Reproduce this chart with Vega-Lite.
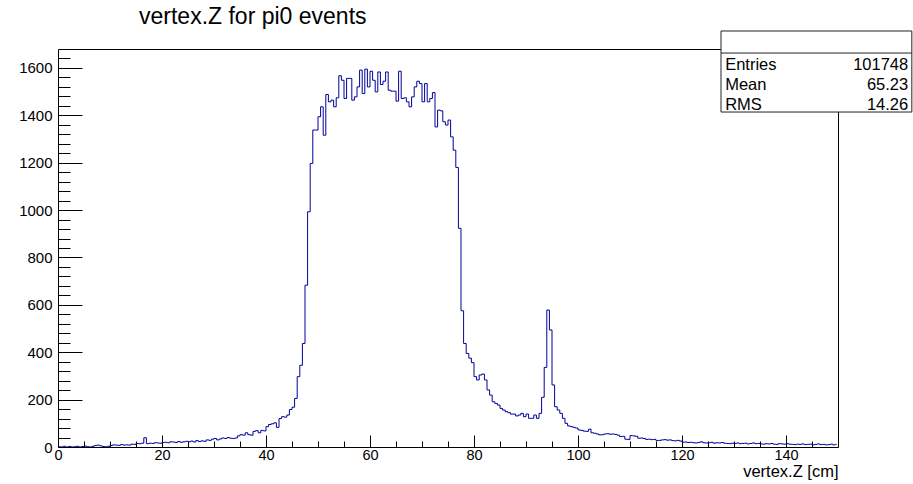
{
  "$schema": "https://vega.github.io/schema/vega-lite/v6.json",
  "width": 780,
  "height": 398,
  "autosize": {"type": "none"},
  "padding": {"left": 58, "top": 49, "right": 75, "bottom": 37},
  "background": "white",
  "config": {"view": {"stroke": "black", "strokeWidth": 1}, "font": "Liberation Sans"},
  "title": {"text": "vertex.Z for pi0 events", "anchor": "start", "frame": "group", "dx": 81, "fontSize": 23, "fontWeight": "normal", "font": "Liberation Sans", "color": "black", "offset": -17, "baseline": "alphabetic"},
  "datasets": {
    "hist": [
      {"z":0.25,"n":2},{"z":0.75,"n":0},{"z":1.25,"n":3},{"z":1.75,"n":0},{"z":2.25,"n":2},{"z":2.75,"n":0},{"z":3.25,"n":1},{"z":3.75,"n":3},{"z":4.25,"n":0},{"z":4.75,"n":2},
      {"z":5.25,"n":4},{"z":5.75,"n":1},{"z":6.25,"n":0},{"z":6.75,"n":3},{"z":7.25,"n":6},{"z":7.75,"n":8},{"z":8.25,"n":5},{"z":8.75,"n":2},{"z":9.25,"n":1},{"z":9.75,"n":3},
      {"z":10.25,"n":6},{"z":10.75,"n":9},{"z":11.25,"n":8},{"z":11.75,"n":7},{"z":12.25,"n":10},{"z":12.75,"n":8},{"z":13.25,"n":9},{"z":13.75,"n":8},{"z":14.25,"n":12},{"z":14.75,"n":11},
      {"z":15.25,"n":15},{"z":15.75,"n":14},{"z":16.25,"n":16},{"z":16.75,"n":39},{"z":17.25,"n":14},{"z":17.75,"n":16},{"z":18.25,"n":15},{"z":18.75,"n":18},{"z":19.25,"n":17},{"z":19.75,"n":16},
      {"z":20.25,"n":19},{"z":20.75,"n":20},{"z":21.25,"n":18},{"z":21.75,"n":22},{"z":22.25,"n":21},{"z":22.75,"n":19},{"z":23.25,"n":23},{"z":23.75,"n":20},{"z":24.25,"n":22},{"z":24.75,"n":24},
      {"z":25.25,"n":22},{"z":25.75,"n":25},{"z":26.25,"n":21},{"z":26.75,"n":27},{"z":27.25,"n":23},{"z":27.75,"n":26},{"z":28.25,"n":24},{"z":28.75,"n":30},{"z":29.25,"n":28},{"z":29.75,"n":33},
      {"z":30.25,"n":36},{"z":30.75,"n":30},{"z":31.25,"n":34},{"z":31.75,"n":38},{"z":32.25,"n":36},{"z":32.75,"n":40},{"z":33.25,"n":37},{"z":33.75,"n":36},{"z":34.25,"n":38},{"z":34.75,"n":47},
      {"z":35.25,"n":52},{"z":35.75,"n":50},{"z":36.25,"n":60},{"z":36.75,"n":52},{"z":37.25,"n":50},{"z":37.75,"n":66},{"z":38.25,"n":69},{"z":38.75,"n":60},{"z":39.25,"n":70},{"z":39.75,"n":68},
      {"z":40.25,"n":86},{"z":40.75,"n":95},{"z":41.25,"n":98},{"z":41.75,"n":102},{"z":42.25,"n":83},{"z":42.75,"n":120},{"z":43.25,"n":128},{"z":43.75,"n":126},{"z":44.25,"n":135},{"z":44.75,"n":158},
      {"z":45.25,"n":168},{"z":45.75,"n":205},{"z":46.25,"n":297},{"z":46.75,"n":345},{"z":47.25,"n":437},{"z":47.75,"n":683},{"z":48.25,"n":993},{"z":48.75,"n":1197},
      {"z":49.25,"n":1338},{"z":49.75,"n":1338},{"z":50.25,"n":1394},{"z":50.75,"n":1436},{"z":51.25,"n":1316},{"z":51.75,"n":1488},{"z":52.25,"n":1457},{"z":52.75,"n":1464},{"z":53.25,"n":1436},{"z":53.75,"n":1474},
      {"z":54.25,"n":1567},{"z":54.75,"n":1548},{"z":55.25,"n":1471},{"z":55.75,"n":1556},{"z":56.25,"n":1556},{"z":56.75,"n":1464},{"z":57.25,"n":1478},{"z":57.75,"n":1520},{"z":58.25,"n":1591},{"z":58.75,"n":1492},
      {"z":59.25,"n":1595},{"z":59.75,"n":1520},{"z":60.25,"n":1586},{"z":60.75,"n":1548},{"z":61.25,"n":1499},{"z":61.75,"n":1583},{"z":62.25,"n":1530},{"z":62.75,"n":1544},{"z":63.25,"n":1583},{"z":63.75,"n":1506},
      {"z":64.25,"n":1502},{"z":64.75,"n":1502},{"z":65.25,"n":1460},{"z":65.75,"n":1586},{"z":66.25,"n":1471},{"z":66.75,"n":1474},{"z":67.25,"n":1457},{"z":67.75,"n":1436},{"z":68.25,"n":1478},{"z":68.75,"n":1520},
      {"z":69.25,"n":1544},{"z":69.75,"n":1534},{"z":70.25,"n":1457},{"z":70.75,"n":1534},{"z":71.25,"n":1457},{"z":71.75,"n":1471},{"z":72.25,"n":1496},{"z":72.75,"n":1351},
      {"z":73.25,"n":1422},{"z":73.75,"n":1419},{"z":74.25,"n":1373},{"z":74.75,"n":1359},{"z":75.25,"n":1380},{"z":75.75,"n":1309},{"z":76.25,"n":1253},{"z":76.75,"n":1180},{"z":77.25,"n":923},{"z":77.75,"n":575},
      {"z":78.25,"n":437},{"z":78.75,"n":395},{"z":79.25,"n":375},{"z":79.75,"n":356},{"z":80.25,"n":297},
      {"z":80.75,"n":283},{"z":81.25,"n":304},{"z":81.75,"n":308},{"z":82.25,"n":283},{"z":82.75,"n":241},{"z":83.25,"n":219},{"z":83.75,"n":191},{"z":84.25,"n":184},{"z":84.75,"n":177},{"z":85.25,"n":163},
      {"z":85.75,"n":156},{"z":86.25,"n":149},{"z":86.75,"n":145},{"z":87.25,"n":139},{"z":87.75,"n":139},{"z":88.25,"n":131},{"z":88.75,"n":135},{"z":89.25,"n":142},{"z":89.75,"n":128},{"z":90.25,"n":139},
      {"z":90.75,"n":121},{"z":91.25,"n":121},{"z":91.75,"n":135},{"z":92.25,"n":121},{"z":92.75,"n":142},
      {"z":93.25,"n":210},{"z":93.75,"n":336},{"z":94.25,"n":578},{"z":94.75,"n":494},{"z":95.25,"n":262},{"z":95.75,"n":170},{"z":96.25,"n":156},{"z":96.75,"n":142},{"z":97.25,"n":121},{"z":97.75,"n":100},
      {"z":98.25,"n":89},{"z":98.75,"n":86},
      {"z":99.25,"n":83},{"z":99.75,"n":80},{"z":100.25,"n":72},{"z":100.75,"n":70},{"z":101.25,"n":67},{"z":101.75,"n":66},{"z":102.25,"n":75},{"z":102.75,"n":60},{"z":103.25,"n":58},{"z":103.75,"n":55},
      {"z":104.25,"n":51},{"z":104.75,"n":52},{"z":105.25,"n":55},{"z":105.75,"n":56},{"z":106.25,"n":54},{"z":106.75,"n":55},{"z":107.25,"n":53},{"z":107.75,"n":50},{"z":108.25,"n":44},{"z":108.75,"n":45},
      {"z":109.25,"n":33},{"z":109.75,"n":32},{"z":110.25,"n":48},{"z":110.75,"n":47},{"z":111.25,"n":45},{"z":111.75,"n":37},{"z":112.25,"n":38},{"z":112.75,"n":36},{"z":113.25,"n":32},{"z":113.75,"n":33},
      {"z":114.25,"n":31},{"z":114.75,"n":32},{"z":115.25,"n":27},{"z":115.75,"n":28},{"z":116.25,"n":30},{"z":116.75,"n":31},{"z":117.25,"n":29},{"z":117.75,"n":30},{"z":118.25,"n":27},{"z":118.75,"n":26},
      {"z":119.25,"n":28},{"z":119.75,"n":25},{"z":120.25,"n":20},{"z":120.75,"n":21},{"z":121.25,"n":19},{"z":121.75,"n":20},{"z":122.25,"n":18},{"z":122.75,"n":17},{"z":123.25,"n":19},{"z":123.75,"n":22},
      {"z":124.25,"n":18},{"z":124.75,"n":17},{"z":125.25,"n":18},{"z":125.75,"n":20},{"z":126.25,"n":16},{"z":126.75,"n":18},{"z":127.25,"n":17},{"z":127.75,"n":19},{"z":128.25,"n":16},{"z":128.75,"n":15},
      {"z":129.25,"n":14},{"z":129.75,"n":16},{"z":130.25,"n":15},{"z":130.75,"n":17},{"z":131.25,"n":14},{"z":131.75,"n":15},{"z":132.25,"n":16},{"z":132.75,"n":13},{"z":133.25,"n":15},{"z":133.75,"n":17},
      {"z":134.25,"n":14},{"z":134.75,"n":15},{"z":135.25,"n":13},{"z":135.75,"n":12},{"z":136.25,"n":14},{"z":136.75,"n":13},{"z":137.25,"n":15},{"z":137.75,"n":12},{"z":138.25,"n":11},{"z":138.75,"n":14},
      {"z":139.25,"n":13},{"z":139.75,"n":12},{"z":140.25,"n":14},{"z":140.75,"n":12},{"z":141.25,"n":11},{"z":141.75,"n":10},{"z":142.25,"n":12},{"z":142.75,"n":11},{"z":143.25,"n":13},{"z":143.75,"n":10},
      {"z":144.25,"n":11},{"z":144.75,"n":12},{"z":145.25,"n":9},{"z":145.75,"n":11},{"z":146.25,"n":13},{"z":146.75,"n":10},{"z":147.25,"n":11},{"z":147.75,"n":9},{"z":148.25,"n":10},{"z":148.75,"n":12},
      {"z":149.25,"n":9},{"z":149.75,"n":11}
    ],
    "stats": [{"labels": "Entries\nMean\nRMS", "values": "101748\n65.23\n14.26"}]
  },
  "layer": [
    {
      "data": {"name": "hist"},
      "mark": {"type": "line", "interpolate": "step", "color": "#000099", "strokeWidth": 1, "clip": true},
      "encoding": {
        "x": {"field": "z", "type": "quantitative", "scale": {"domain": [0, 150], "nice": false, "zero": false},
          "axis": {"orient": "bottom", "values": [0, 20, 40, 60, 80, 100, 120, 140], "format": "d", "tickSize": -12, "tickColor": "black", "domain": false, "grid": false,
            "labelFont": "Liberation Sans", "labelFontSize": 14.5, "labelColor": "black", "labelPadding": 13, "labelFlush": false, "labelOverlap": false,
            "title": "vertex.Z [cm]", "titleFont": "Liberation Sans", "titleFontSize": 16.5, "titleFontWeight": "normal", "titleColor": "black",
            "titleAnchor": "end", "titleAlign": "right", "titleX": 780, "titleY": 29, "titleBaseline": "alphabetic"}},
        "y": {"field": "n", "type": "quantitative", "scale": {"domain": [0, 1680], "nice": false},
          "axis": {"orient": "left", "values": [0, 200, 400, 600, 800, 1000, 1200, 1400, 1600], "format": "d", "tickSize": -24, "tickColor": "black", "domain": false, "grid": false,
            "labelFont": "Liberation Sans", "labelFontSize": 15, "labelColor": "black", "labelPadding": 30, "labelOverlap": false, "labelFlush": false, "title": null}}
      }
    },
    {
      "data": {"name": "hist"},
      "mark": {"type": "line", "opacity": 0},
      "encoding": {
        "x": {"field": "z", "type": "quantitative",
          "axis": {"orient": "bottom", "values": [5, 10, 15, 25, 30, 35, 45, 50, 55, 65, 70, 75, 85, 90, 95, 105, 110, 115, 125, 130, 135, 145], "tickSize": -6, "tickColor": "black", "labels": false, "domain": false, "grid": false, "title": null}},
        "y": {"field": "n", "type": "quantitative",
          "axis": {"orient": "left", "values": [40, 80, 120, 160, 240, 280, 320, 360, 440, 480, 520, 560, 640, 680, 720, 760, 840, 880, 920, 960, 1040, 1080, 1120, 1160, 1240, 1280, 1320, 1360, 1440, 1480, 1520, 1560, 1640], "tickSize": -12, "tickColor": "black", "labels": false, "domain": false, "grid": false, "title": null}}
      }
    },
    {
      "data": {"name": "stats"},
      "mark": {"type": "rect", "fill": "white", "stroke": "#222222", "strokeWidth": 1},
      "encoding": {
        "x": {"datum": 127.5, "type": "quantitative", "axis": null},
        "x2": {"datum": 164.2},
        "y": {"datum": 1756, "type": "quantitative", "axis": null},
        "y2": {"datum": 1414}
      }
    },
    {
      "data": {"name": "stats"},
      "mark": {"type": "rule", "stroke": "#222222", "strokeWidth": 1},
      "encoding": {
        "x": {"datum": 127.5, "type": "quantitative", "axis": null},
        "x2": {"datum": 164.2},
        "y": {"datum": 1663, "type": "quantitative", "axis": null}
      }
    },
    {
      "data": {"name": "stats"},
      "mark": {"type": "text", "align": "left", "baseline": "alphabetic", "lineBreak": "\n", "lineHeight": 19.8, "fontSize": 16.5, "font": "Liberation Sans", "color": "black"},
      "encoding": {
        "x": {"datum": 128.3, "type": "quantitative", "axis": null},
        "y": {"datum": 1591, "type": "quantitative", "axis": null},
        "text": {"field": "labels"}
      }
    },
    {
      "data": {"name": "stats"},
      "mark": {"type": "text", "align": "right", "baseline": "alphabetic", "lineBreak": "\n", "lineHeight": 19.8, "fontSize": 16.5, "font": "Liberation Sans", "color": "black"},
      "encoding": {
        "x": {"datum": 163.5, "type": "quantitative", "axis": null},
        "y": {"datum": 1591, "type": "quantitative", "axis": null},
        "text": {"field": "values"}
      }
    }
  ],
  "resolve": {"axis": {"x": "independent", "y": "independent"}}
}
